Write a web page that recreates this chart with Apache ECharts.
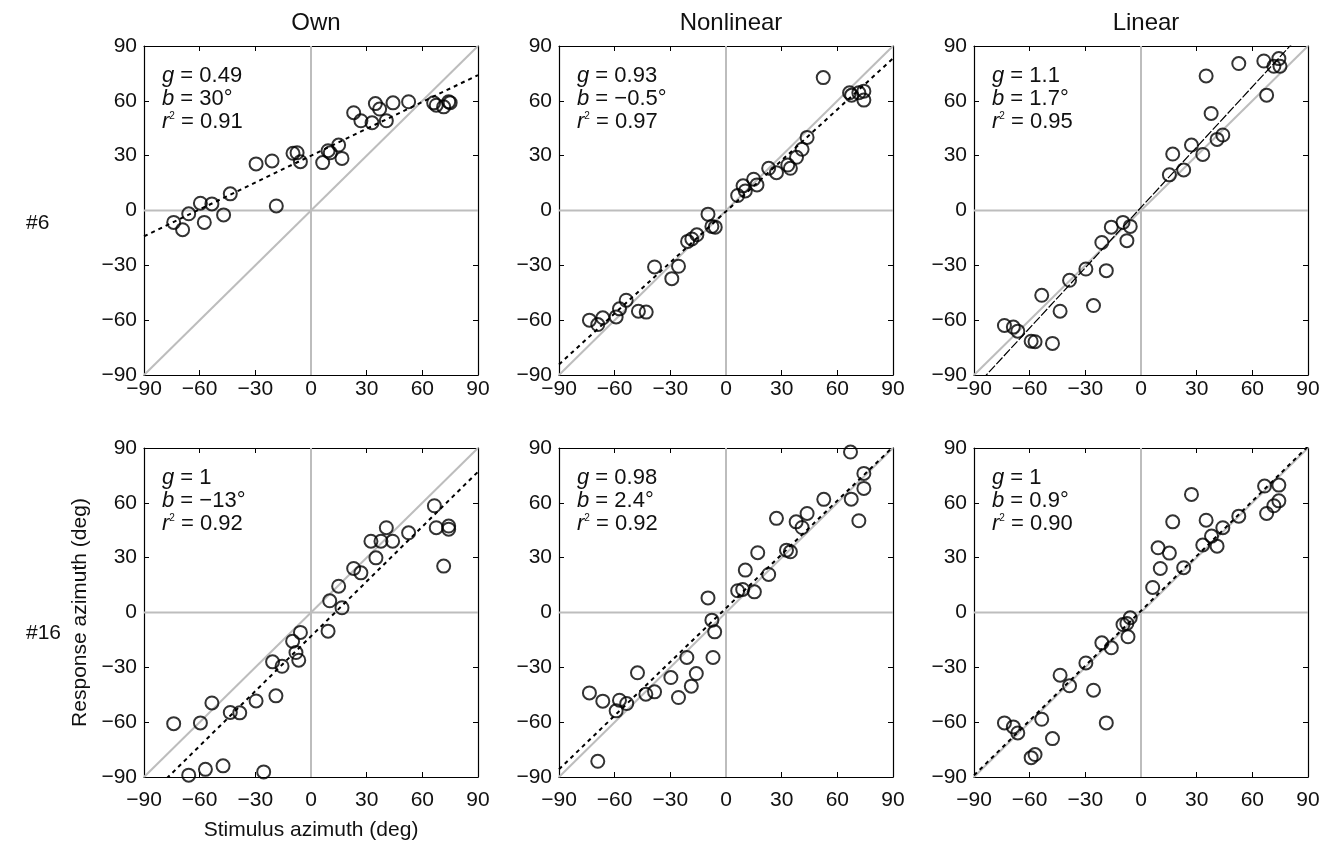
<!DOCTYPE html>
<html>
<head>
<meta charset="utf-8">
<script src="https://cdn.jsdelivr.net/npm/echarts@6/dist/echarts.min.js"></script>
<style>
html,body{margin:0;padding:0;background:#fff;}
#chart{width:1333px;height:844px;}
</style>
</head>
<body>
<div id="chart"></div>
<script>
// ---------- data ----------
const columnTitles = ['Own', 'Nonlinear', 'Linear'];
const rowLabels = ['#6', '#16'];
const tickValues = [-90, -60, -30, 0, 30, 60, 90];
const xAxisName = 'Stimulus azimuth (deg)';
const yAxisName = 'Response azimuth (deg)';

// Panel #6 / Own
const own6X = [-74, -69.2, -65.9, -59.6, -57.5, -53.4, -47.1, -43.5, -29.6, -21, -18.7, -9.7, -7.5, -5.7, 6.3, 9.2, 10.4, 14.9, 16.7, 23, 26.9, 32.9, 34.7, 37, 40.6, 44.2, 52.6, 66.1, 67.5, 71.5, 74.2, 75];
const own6Y = [-6.5, -10.5, -1.8, 4, -6.5, 3.6, -2.4, 9.1, 25.5, 27.1, 2.5, 31.3, 31.6, 26.7, 26.2, 32.7, 31.6, 35.8, 28.5, 53.5, 49.1, 48, 58.5, 55.5, 49.1, 58.9, 59.5, 58.9, 57.6, 56.7, 59.5, 59];
// Panel #6 / Nonlinear
const non6X = [-73.6, -69.1, -66.4, -59.2, -57.4, -53.8, -47.2, -43, -38.5, -29.2, -25.6, -20.7, -18.4, -15.7, -9.7, -7.6, -5.8, 6.3, 9.2, 10.4, 14.9, 16.7, 23, 27.2, 33.3, 34.7, 38, 41, 43.7, 52.4, 66.6, 67.7, 71.6, 74.3, 74.3];
const non6Y = [-60, -62.4, -58.7, -58.2, -53.8, -49.1, -55.1, -55.6, -30.9, -37.3, -30.5, -16.9, -15.6, -13.3, -2, -8.7, -9.1, 8.2, 13.5, 10.7, 17.1, 14, 23.1, 20.7, 24.9, 23.1, 29.1, 33.5, 40, 72.7, 64.4, 63.1, 64.4, 65.3, 60.4];
// Panel #6 / Linear
const lin6X = [-73.6, -68.8, -66.4, -59.2, -57.1, -47.7, -53.5, -43.6, -38.5, -29.7, -25.6, -18.7, -21.1, -16, -9.7, -5.8, -7.6, 15.3, 17.1, 23, 27.2, 33.3, 35.1, 37.8, 41, 44.1, 52.7, 66.2, 67.7, 71.6, 74.3, 74.9];
const lin6Y = [-62.9, -63.8, -66, -71.5, -71.8, -72.7, -46.4, -55.1, -38.2, -32, -52, -32.9, -17.5, -9.1, -6.5, -8.7, -16.5, 19.5, 30.9, 22.2, 35.8, 30.7, 73.6, 53.1, 38.9, 41.3, 80.4, 81.8, 63.1, 78.9, 83.1, 78.9];
// Panel #16 / Own
const own16X = [-74, -65.9, -59.6, -56.9, -53.4, -47.4, -43.5, -38.4, -29.6, -25.5, -20.7, -15.6, -18.9, -9.9, -8.1, -6.6, -5.7, 9.2, 10.1, 14.9, 16.7, 23, 26.9, 32.3, 35, 37.7, 40.6, 44, 52.6, 66.5, 67.5, 71.5, 74.2, 74.2];
const own16Y = [-60.8, -89, -60.4, -85.8, -49.5, -83.9, -54.7, -54.9, -48.4, -87.2, -27, -29.4, -45.6, -15.7, -21.9, -26.1, -10.9, -10.2, 6.4, 14.4, 2.6, 24.1, 21.7, 39, 29.9, 39, 46.4, 39, 43.6, 58.4, 46.4, 25.4, 47.3, 45.6];
// Panel #16 / Nonlinear
const non16X = [-73.6, -69.1, -66.4, -59.2, -57.4, -53.5, -47.7, -43.2, -38.5, -29.7, -25.6, -21.1, -18.7, -16, -9.7, -7.6, -6.1, -7, 6.3, 9, 10.4, 15.3, 17.1, 23, 27.2, 32.6, 34.7, 37.8, 41, 43.7, 52.7, 67.1, 67.5, 71.6, 74.3, 74.3];
const non16Y = [-44, -81.4, -48.5, -53.8, -48, -49.8, -33, -44.7, -43.4, -35.6, -46.5, -24.6, -40.3, -33.4, 8, -4.2, -10.6, -24.6, 11.9, 12.6, 23.2, 11.3, 32.7, 20.8, 51.5, 34.1, 33.2, 49.6, 46.5, 54.2, 61.9, 87.8, 62, 50.2, 67.9, 76.1];
// Panel #16 / Linear
const lin16X = [-73.6, -68.8, -66.4, -59.2, -57.1, -53.5, -47.7, -43.6, -38.5, -29.7, -25.6, -21.1, -16, -18.7, -9.7, -7.6, -5.8, -7, 6.3, 9.2, 10.4, 15.3, 17.1, 23, 27.2, 33.3, 35.1, 38, 41, 44.1, 52.7, 66.6, 67.7, 71.6, 74.3, 74.3];
const lin16Y = [-60.4, -62.6, -65.9, -79.4, -77.7, -58.4, -69, -34.3, -40.1, -27.6, -42.5, -16.6, -19.3, -60.4, -6.6, -6, -2.9, -13.3, 13.7, 35.4, 24.1, 32.5, 49.6, 24.5, 64.6, 36.9, 50.5, 41.8, 36.3, 46.4, 52.7, 69.2, 54.2, 58.4, 61.1, 69.7];

// fit statistics shown in each panel (gain g, bias b, r^2)
const fitGain = [0.49, 0.93, 1.1, 1, 0.98, 1];
const fitBias = [30, -0.5, 1.7, -13, 2.4, 0.9];
const fitGainText = ['0.49', '0.93', '1.1', '1', '0.98', '1'];
const fitBiasText = ['30°', '−0.5°', '1.7°', '−13°', '2.4°', '0.9°'];
const fitR2Text = ['0.91', '0.97', '0.95', '0.92', '0.92', '0.90'];

const panelX = [own6X, non6X, lin6X, own16X, non16X, lin16X];
const panelY = [own6Y, non6Y, lin6Y, own16Y, non16Y, lin16Y];

// ---------- layout ----------
const FONT = 'Liberation Sans, Arial, Helvetica, sans-serif';
const colLeft = [144, 559, 974];
const colWidth = 334;
const rowTop = [46, 448];
const rowHeight = 329;
const txt = '#111';

const fmt = v => (v < 0 ? '−' + Math.abs(v) : String(v));

const grids = [], xAxes = [], yAxes = [], series = [], titles = [];

for (let p = 0; p < 6; p++) {
  const r = Math.floor(p / 3), c = p % 3;
  grids.push({left: colLeft[c], top: rowTop[r], width: colWidth, height: rowHeight, containLabel: false});
  const common = {
    gridIndex: p, type: 'value', min: -90, max: 90, interval: 30,
    splitLine: {show: false},
    axisLine: {show: true, onZero: false, lineStyle: {color: '#000', width: 1.2}},
    axisTick: {show: true, inside: true, length: 5, lineStyle: {color: '#000', width: 1}}
  };
  // bottom x
  xAxes.push(Object.assign({}, common, {
    position: 'bottom',
    axisLabel: {show: true, formatter: fmt, fontSize: 21, color: txt, fontFamily: FONT, margin: r === 0 ? 4 : 13},
    name: p === 3 ? xAxisName : '', nameLocation: 'middle', nameGap: 43,
    nameTextStyle: {fontSize: 21, color: txt, fontFamily: FONT}
  }));
  // top x (ticks only)
  xAxes.push(Object.assign({}, common, {position: 'top', axisLabel: {show: false}}));
  // left y
  yAxes.push(Object.assign({}, common, {
    position: 'left',
    axisLabel: {show: true, formatter: fmt, fontSize: 21, color: txt, fontFamily: FONT, margin: 7},
    name: p === 3 ? yAxisName : '', nameLocation: 'middle', nameGap: 53, nameRotate: 90,
    nameTextStyle: {fontSize: 21, color: txt, fontFamily: FONT}
  }));
  // right y (ticks only)
  yAxes.push(Object.assign({}, common, {position: 'right', axisLabel: {show: false}}));

  const xi = p * 2, yi = p * 2;
  // zero lines
  series.push({
    type: 'line', xAxisIndex: xi, yAxisIndex: yi, silent: true, symbol: 'none', z: 1,
    data: [[-90, 0], [90, 0]], lineStyle: {color: '#bdbdbd', width: 2}
  });
  series.push({
    type: 'line', xAxisIndex: xi, yAxisIndex: yi, silent: true, symbol: 'none', z: 1,
    data: [[0, -90], [0, 90]], lineStyle: {color: '#bdbdbd', width: 2}
  });
  // identity line
  series.push({
    type: 'line', xAxisIndex: xi, yAxisIndex: yi, silent: true, symbol: 'none', z: 1,
    data: [[-90, -90], [90, 90]], lineStyle: {color: '#bdbdbd', width: 2}
  });
  // regression fit line
  const g = fitGain[p], b = fitBias[p];
  const thin = (p === 2);
  series.push({
    type: 'line', xAxisIndex: xi, yAxisIndex: yi, silent: true, symbol: 'none', z: 2, clip: true,
    data: [[-90, g * -90 + b], [90, g * 90 + b]],
    lineStyle: {color: '#000', width: thin ? 1.2 : 2, type: thin ? [9, 2] : [4, 4]}
  });
  // responses
  series.push({
    type: 'scatter', xAxisIndex: xi, yAxisIndex: yi, z: 3, symbol: 'circle', symbolSize: 13,
    data: panelX[p].map((x, i) => [x, panelY[p][i]]),
    itemStyle: {color: 'rgba(0,0,0,0)', borderColor: '#000', borderWidth: 2}
  });

  // annotation text
  titles.push({
    left: colLeft[c] + 13, top: rowTop[r] + 13,
    text: '{i|g} = ' + fitGainText[p] + '\n{i|b} = ' + fitBiasText[p] + '\n{i|r}{s|2} = ' + fitR2Text[p],
    textStyle: {
      fontSize: 22, fontWeight: 'normal', color: txt, fontFamily: FONT, lineHeight: 23,
      rich: {
        i: {fontStyle: 'italic', fontSize: 22, color: txt, fontFamily: FONT, lineHeight: 23},
        s: {fontSize: 10, color: txt, fontFamily: FONT, padding: [0, 0, 10, 0]}
      }
    }
  });
}

// column titles
for (let c = 0; c < 3; c++) {
  titles.push({
    text: columnTitles[c], left: colLeft[c] + colWidth / 2, top: 6, textAlign: 'center',
    textStyle: {fontSize: 24, fontWeight: 'normal', color: txt, fontFamily: FONT}
  });
}
// row labels
titles.push({text: rowLabels[0], left: 21, top: 208, textStyle: {fontSize: 21, fontWeight: 'normal', color: txt, fontFamily: FONT}});
titles.push({text: rowLabels[1], left: 21, top: 618, textStyle: {fontSize: 21, fontWeight: 'normal', color: txt, fontFamily: FONT}});

const chart = echarts.init(document.getElementById('chart'), null, {renderer: 'canvas'});
chart.setOption({
  animation: false,
  backgroundColor: '#fff',
  title: titles,
  grid: grids,
  xAxis: xAxes.map((a, i) => Object.assign(a, {gridIndex: Math.floor(i / 2)})),
  yAxis: yAxes.map((a, i) => Object.assign(a, {gridIndex: Math.floor(i / 2)})),
  series: series
});
</script>
</body>
</html>
